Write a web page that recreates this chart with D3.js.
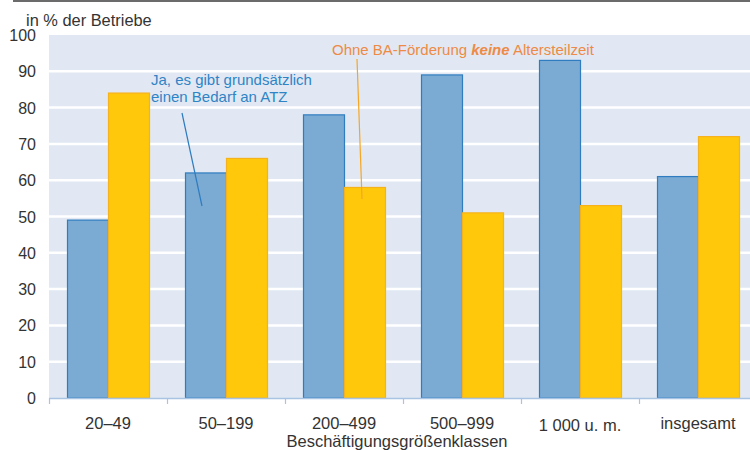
<!DOCTYPE html>
<html><head><meta charset="utf-8">
<script src="https://cdn.jsdelivr.net/npm/d3@7"></script>
<style>body{margin:0;background:#fff;}svg{display:block;font-family:"Liberation Sans",Arial,sans-serif;}</style>
</head><body><svg id="c" width="750" height="450"></svg>
<script>
const categories = ["20–49","50–199","200–499","500–999","1 000 u. m.","insgesamt"];
const seriesBedarf = [49,62,78,89,93,61];
const seriesKeine = [84,66,58,51,53,72];
const yTicks = [0,10,20,30,40,50,60,70,80,90,100];

const svg = d3.select("#c");
const x = d3.scaleBand().domain(categories).range([49,757]).paddingInner(0).paddingOuter(0);
const y = d3.scaleLinear().domain([0,100]).range([398,35]);

// top rule
svg.append("line").attr("x1",13).attr("x2",750).attr("y1",1).attr("y2",1).attr("stroke","#6b6b6b").attr("stroke-width",2);

// background
svg.append("rect").attr("x",49).attr("y",y(100)).attr("width",757-49).attr("height",y(0)-y(100)).attr("fill","#E1E8F3");
// grid
svg.append("g").selectAll("line").data(yTicks.filter(d=>d>0 && d<100)).join("line")
  .attr("x1",49).attr("x2",757).attr("y1",d=>y(d)).attr("y2",d=>y(d)).attr("stroke","#fff").attr("stroke-width",2.5);

// y labels
svg.append("g").selectAll("text").data(yTicks).join("text")
  .attr("x",36).attr("y",d=>y(d)+6).attr("text-anchor","end").attr("font-size",16).attr("fill","#333").text(d=>d);
svg.append("text").attr("x",26).attr("y",26).attr("font-size",16.4).attr("fill","#333").text("in % der Betriebe");

const bw = 41, off = 18;
const g = svg.append("g");
g.selectAll(".b").data(categories).join("rect")
  .attr("x",d=>x(d)+off+0.5).attr("y",(d,i)=>y(seriesBedarf[i])).attr("width",bw)
  .attr("height",(d,i)=>y(0)-y(seriesBedarf[i])).attr("fill","#7BAAD3").attr("stroke","#2F7DC0").attr("stroke-width",1.2);
g.selectAll(".k").data(categories).join("rect")
  .attr("x",d=>x(d)+off+bw+0.5).attr("y",(d,i)=>y(seriesKeine[i])).attr("width",bw)
  .attr("height",(d,i)=>y(0)-y(seriesKeine[i])).attr("fill","#FFC80B").attr("stroke","#F6B21A").attr("stroke-width",1.2);

// x axis
svg.append("line").attr("x1",49).attr("x2",757).attr("y1",398.5).attr("y2",398.5).attr("stroke","#A9C3E3").attr("stroke-width",1.5);
svg.append("g").selectAll("line").data(categories).join("line")
  .attr("x1",d=>x(d)+0.5).attr("x2",d=>x(d)+0.5).attr("y1",398).attr("y2",404).attr("stroke","#A9C3E3").attr("stroke-width",1.2);
svg.append("g").selectAll("text").data(categories).join("text")
  .attr("x",d=>x(d)+x.bandwidth()/2).attr("y",(d,i)=>i===4?431:429).attr("text-anchor","middle").attr("font-size",16.5).attr("fill","#333").text(d=>d);
svg.append("text").attr("x",397).attr("y",447).attr("text-anchor","middle").attr("font-size",16.5).attr("fill","#333").text("Beschäftigungsgrößenklassen");

// annotations
svg.append("line").attr("x1",182).attr("y1",113).attr("x2",202).attr("y2",206).attr("stroke","#2E7CC0").attr("stroke-width",1.2);
svg.append("text").attr("x",151).attr("y",85).attr("font-size",15).attr("fill","#2F84C6").text("Ja, es gibt grundsätzlich");
svg.append("text").attr("x",151).attr("y",102).attr("font-size",15).attr("fill","#2F84C6").text("einen Bedarf an ATZ");

svg.append("line").attr("x1",357).attr("y1",59).attr("x2",362).attr("y2",199).attr("stroke","#F5A623").attr("stroke-width",1.2);
const t = svg.append("text").attr("x",332).attr("y",55).attr("font-size",15).attr("fill","#EE8A45");
t.append("tspan").text("Ohne BA-Förderung ");
t.append("tspan").attr("font-weight","bold").attr("font-style","italic").text("keine");
t.append("tspan").text("  Altersteilzeit");
</script></body></html>
